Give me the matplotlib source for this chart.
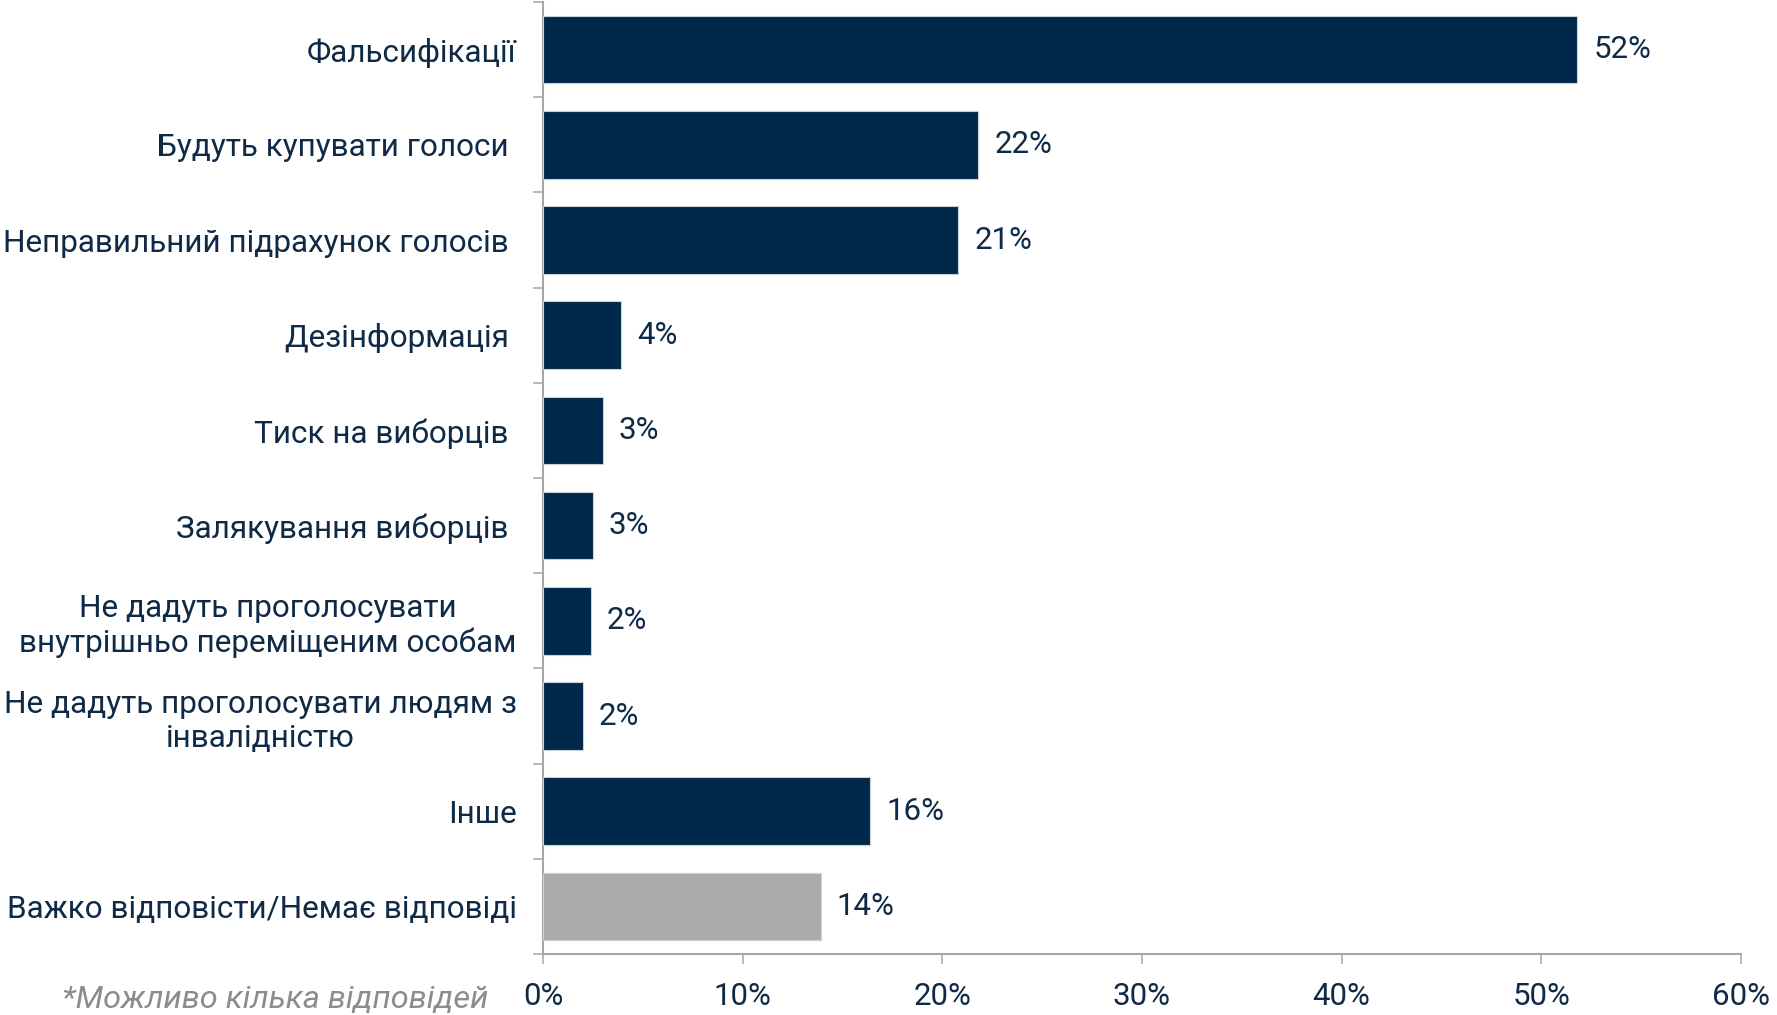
import matplotlib.pyplot as plt

# answers (top to bottom) and shares in %
categories = [
    "Фальсифікації",
    "Будуть купувати голоси ",
    "Неправильний підрахунок голосів ",
    "Дезінформація ",
    "Тиск на виборців ",
    "Залякування виборців ",
    "Не дадуть проголосувати\nвнутрішньо переміщеним особам",
    "Не дадуть проголосувати людям з\nінвалідністю",
    "Інше",
    "Важко відповісти/Немає відповіді",
]
values = [51.8, 21.8, 20.8, 3.9, 3.0, 2.5, 2.4, 2.0, 16.4, 13.9]
value_labels = ["52%", "22%", "21%", "4%", "3%", "3%", "2%", "2%", "16%", "14%"]
xticks = [0, 10, 20, 30, 40, 50, 60]
footnote = "*Можливо кілька відповідей"

navy = "#00284A"
text_col = "#0E2A47"
gray_bar = "#ABABAB"
axis_col = "#A6A6A6"

plt.rcParams["font.family"] = ["Roboto", "DejaVu Sans"]

fig = plt.figure(figsize=(17.77, 10.15), dpi=100)
ax = fig.add_axes([0.3056, 0.0601, 0.9797 - 0.3056, 0.998 - 0.0601])

n = len(categories)
ypos = list(range(n))
colors = [navy] * (n - 1) + [gray_bar]
ax.barh(ypos, values, height=0.71, color=colors, edgecolor="#C8D0DA", linewidth=0.8, zorder=3)

for y, v, lab in zip(ypos, values, value_labels):
    ax.text(v + 0.8, y, lab, va="center", ha="left", fontsize=22.5, color=text_col)

ax.set_xlim(0, 60)
ax.set_ylim(n - 0.5, -0.5)

# category boundaries get ticks, centres carry the labels
ax.set_yticks([i - 0.5 for i in range(n + 1)])
ax.set_yticklabels([])
ax.set_yticks(ypos, minor=True)
ax.set_yticklabels(categories, minor=True, fontsize=22.7, color=text_col,
                   ha="right", multialignment="center", linespacing=1.2)
ax.tick_params(axis="y", which="major", length=7, width=1.1, color=axis_col, direction="out")
ax.tick_params(axis="y", which="minor", length=0, pad=19)

ax.set_xticks(xticks)
ax.set_xticklabels([f"{t}%" for t in xticks], fontsize=22.5, color=text_col)
ax.tick_params(axis="x", length=7, width=1.1, color=axis_col, direction="out", pad=13)

for side in ["top", "right"]:
    ax.spines[side].set_visible(False)
for side in ["left", "bottom"]:
    ax.spines[side].set_color(axis_col)
    ax.spines[side].set_linewidth(1.5)

fig.text(0.155, 0.007, footnote, ha="center", va="baseline", fontsize=23.4,
         style="italic", color="#8C8C8C")

fig.savefig("out.png", dpi=100)
